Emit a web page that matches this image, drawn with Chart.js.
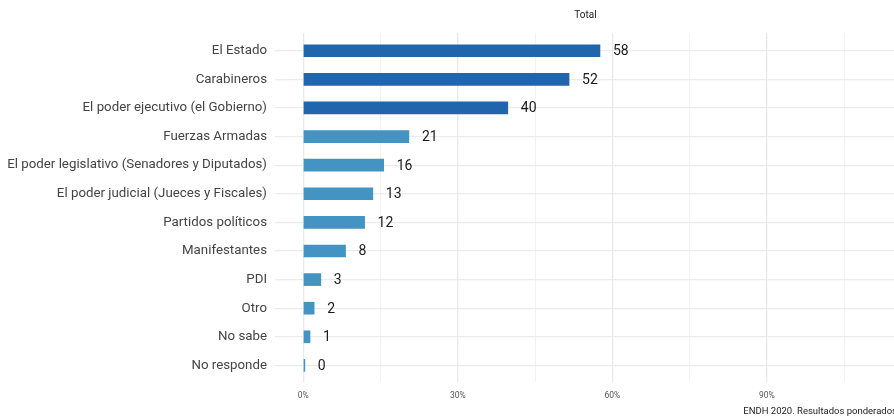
<!DOCTYPE html>
<html><head><meta charset="utf-8">
<script src="https://cdn.jsdelivr.net/npm/chart.js@4/dist/chart.umd.min.js"></script>
<style>html,body{margin:0;padding:0;background:#fff;}#wrap{width:894px;height:419px;}</style>
</head><body><div id="wrap"><canvas id="c" width="894" height="419"></canvas></div>
<script>
const categories = ['El Estado','Carabineros','El poder ejecutivo (el Gobierno)','Fuerzas Armadas','El poder legislativo (Senadores y Diputados)','El poder judicial (Jueces y Fiscales)','Partidos políticos','Manifestantes','PDI','Otro','No sabe','No responde'];
const values = [57.6, 51.6, 39.7, 20.5, 15.6, 13.5, 11.9, 8.2, 3.4, 2.1, 1.3, 0.3];
const valueLabels = ['58','52','40','21','16','13','12','8','3','2','1','0'];
const xTickValues = [0,15,30,45,60,75,90,105];
const xTickLabels = {0:'0%',30:'30%',60:'60%',90:'90%'};
const titleText = 'Total';
const captionText = 'ENDH 2020. Resultados ponderados';

const DARK = '#2166ac', MID = '#4393c3';

const valueLabelPlugin = {
  id: 'valueLabels',
  afterDatasetsDraw(chart) {
    const ctx = chart.ctx;
    const meta = chart.getDatasetMeta(0);
    ctx.save();
    ctx.font = '14px Roboto';
    ctx.fillStyle = '#1a1a1a';
    ctx.textAlign = 'left';
    ctx.textBaseline = 'middle';
    meta.data.forEach((bar, i) => {
      ctx.fillText(valueLabels[i], bar.x + 13, bar.y + 1);
    });
    ctx.restore();
  }
};
const textPlugin = {
  id: 'texts',
  afterDraw(chart) {
    const ctx = chart.ctx, a = chart.chartArea;
    ctx.save();
    ctx.fillStyle = '#222';
    ctx.font = '10px Roboto';
    ctx.textAlign = 'center';
    ctx.textBaseline = 'middle';
    ctx.fillText(titleText, (a.left + 896) / 2, 15);
    ctx.font = '9.5px Roboto';
    ctx.textAlign = 'right';
    ctx.fillText(captionText, 897, 412);
    ctx.restore();
  }
};

function make() {
  new Chart(document.getElementById('c'), {
    type: 'bar',
    data: {
      datasets: [{
        data: values.map((v, i) => ({x: v, y: i})),
        backgroundColor: values.map(v => v >= 30 ? DARK : MID),
        borderWidth: 0,
        barThickness: 12
      }]
    },
    options: {
      indexAxis: 'y',
      responsive: false,
      animation: false,
      devicePixelRatio: 1,
      layout: {padding: {top: 33, left: 0, right: 0, bottom: 0}},
      plugins: {legend: {display: false}, tooltip: {enabled: false}},
      scales: {
        x: {
          type: 'linear', min: -5.5, max: 114.7, offset: false,
          afterBuildTicks: s => { s.ticks = xTickValues.map(v => ({value: v})); },
          afterFit: s => { s.height = 37; },
          border: {display: false},
          grid: {
            drawTicks: false, offset: false,
            color: c => (c.tick && xTickLabels[c.tick.value]) ? '#e9e9e9' : '#f2f2f2',
            lineWidth: c => (c.tick && xTickLabels[c.tick.value]) ? 1.3 : 1
          },
          ticks: {
            autoSkip: false, maxRotation: 0, padding: 9,
            font: {family: 'Roboto', size: 8.5}, color: '#555',
            callback: v => xTickLabels[v] || ''
          }
        },
        y: {
          type: 'linear', reverse: true, min: -0.62, max: 11.58, offset: false,
          afterBuildTicks: s => { s.ticks = categories.map((_, i) => ({value: i})); },
          afterFit: s => { s.width = 275; },
          border: {display: false},
          grid: {drawTicks: false, offset: false, color: '#ebebeb', lineWidth: 1.3},
          ticks: {
            autoSkip: false, padding: 8,
            font: {family: 'Roboto', size: 13.3}, color: '#444',
            callback: v => categories[v]
          }
        }
      }
    },
    plugins: [valueLabelPlugin, textPlugin]
  });
}
Chart.defaults.font.family = 'Roboto';
if (document.fonts && document.fonts.load) {
  Promise.all([document.fonts.load('13px Roboto')]).then(make, make);
} else make();
</script></body></html>
